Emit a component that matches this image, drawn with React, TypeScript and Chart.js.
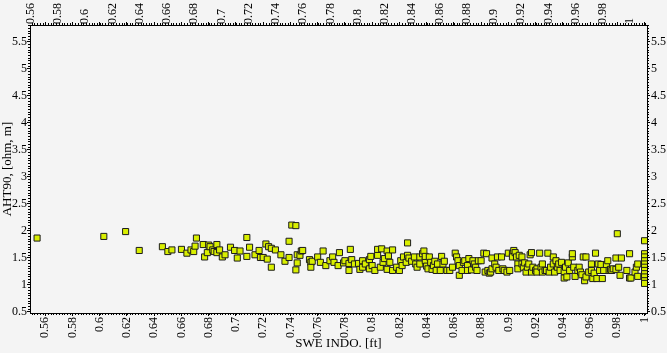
import React, { useEffect, useRef } from "react";
import { Chart, registerables } from "chart.js";

Chart.register(...registerables);

// ---- data ----
const sweIndo: number[] = [
  0.554, 0.603, 0.619, 0.629, 0.646, 0.650, 0.653, 0.660, 0.664, 0.667,
  0.669, 0.670, 0.671, 0.676, 0.677, 0.679, 0.680, 0.681, 0.683, 0.684,
  0.686, 0.686, 0.688, 0.690, 0.692, 0.696, 0.699, 0.701, 0.703, 0.708,
  0.708, 0.710, 0.714, 0.717, 0.718, 0.720, 0.722, 0.723, 0.724, 0.726,
  0.726, 0.729, 0.733, 0.736, 0.739, 0.739, 0.741, 0.744, 0.744, 0.745,
  0.745, 0.747, 0.748, 0.749, 0.754, 0.755, 0.755, 0.756, 0.760, 0.762,
  0.764, 0.766, 0.769, 0.771, 0.772, 0.775, 0.776,
  0.779, 0.780, 0.783, 0.783, 0.784, 0.785, 0.787, 0.790, 0.791, 0.793,
  0.793, 0.795, 0.798, 0.798, 0.799, 0.800, 0.802, 0.804, 0.804, 0.806,
  0.807, 0.808, 0.809, 0.811, 0.811, 0.812, 0.813, 0.815, 0.815, 0.818,
  0.820, 0.821, 0.822, 0.823, 0.825, 0.826, 0.826, 0.827, 0.829, 0.831,
  0.832, 0.833, 0.835, 0.835, 0.837, 0.838, 0.839, 0.839, 0.840, 0.841,
  0.842, 0.843, 0.844, 0.845, 0.846, 0.847, 0.848, 0.850, 0.851, 0.852,
  0.853, 0.855, 0.857, 0.859, 0.861, 0.862, 0.863, 0.864, 0.864, 0.866,
  0.867, 0.868, 0.870, 0.870, 0.871, 0.873, 0.874, 0.875, 0.876, 0.877,
  0.878, 0.880, 0.882, 0.883, 0.884, 0.885, 0.886, 0.887, 0.888, 0.888,
  0.890, 0.891, 0.892, 0.893, 0.895, 0.896, 0.897, 0.899, 0.900, 0.901,
  0.903, 0.903, 0.904, 0.905, 0.906, 0.907, 0.907, 0.908, 0.910, 0.910,
  0.911, 0.912, 0.913, 0.914, 0.915, 0.916, 0.917, 0.917, 0.918, 0.920,
  0.921, 0.921, 0.923, 0.924, 0.925, 0.925, 0.927, 0.928, 0.929, 0.930,
  0.931, 0.933, 0.933, 0.934, 0.935, 0.936, 0.937, 0.938, 0.939, 0.941,
  0.941, 0.942, 0.943, 0.944, 0.945, 0.947, 0.947, 0.948, 0.949, 0.951,
  0.952, 0.953, 0.954, 0.955, 0.956, 0.957, 0.957, 0.959, 0.961, 0.961,
  0.962, 0.963, 0.964, 0.965, 0.966, 0.967, 0.968, 0.969, 0.970, 0.972,
  0.973, 0.974, 0.975, 0.976, 0.977, 0.979, 0.979, 0.980, 0.981, 0.982,
  0.983, 0.987, 0.989, 0.989, 0.990, 0.993, 0.994, 0.995, 0.995,
  1.0, 1.0, 1.0, 1.0, 1.0, 1.0, 1.0, 1.0, 1.0, 1.0, 1.0,
];

const aht90: number[] = [
  1.86, 1.89, 1.98, 1.63, 1.70, 1.61, 1.64, 1.65, 1.58, 1.64,
  1.61, 1.71, 1.86, 1.74, 1.51, 1.59, 1.73, 1.70, 1.64, 1.61,
  1.74, 1.59, 1.64, 1.51, 1.55, 1.69, 1.63, 1.49, 1.62, 1.87,
  1.52, 1.69, 1.55, 1.63, 1.50, 1.50, 1.75, 1.47, 1.70, 1.32,
  1.67, 1.64, 1.55, 1.43, 1.80, 1.50, 2.10, 2.09, 1.27, 1.55,
  1.40, 1.54, 1.62, 1.63, 1.46, 1.41, 1.32, 1.43, 1.51, 1.41,
  1.62, 1.35, 1.44, 1.51, 1.41, 1.35, 1.59,
  1.40, 1.44, 1.39, 1.26, 1.65, 1.46, 1.38, 1.39, 1.28, 1.32,
  1.44, 1.38, 1.46, 1.29, 1.52, 1.35, 1.26, 1.54, 1.65, 1.32,
  1.66, 1.41, 1.48, 1.62, 1.28, 1.53, 1.41, 1.26, 1.64, 1.32,
  1.26, 1.44, 1.35, 1.51, 1.41, 1.77, 1.54, 1.49, 1.43, 1.51,
  1.38, 1.32, 1.51, 1.38, 1.57, 1.62, 1.44, 1.52, 1.34, 1.29,
  1.51, 1.41, 1.28, 1.35, 1.43, 1.26, 1.38, 1.26, 1.52, 1.38,
  1.43, 1.26, 1.26, 1.32, 1.58, 1.51, 1.44, 1.35, 1.17, 1.26,
  1.41, 1.44, 1.35, 1.26, 1.48, 1.27, 1.44, 1.38, 1.32, 1.26,
  1.44, 1.44, 1.58, 1.23, 1.57, 1.26, 1.21, 1.23, 1.29, 1.49,
  1.38, 1.32, 1.51, 1.26, 1.51, 1.29, 1.26, 1.23, 1.58, 1.26,
  1.57, 1.51, 1.63, 1.59, 1.51, 1.38, 1.29, 1.54, 1.51, 1.38,
  1.32, 1.40, 1.23, 1.32, 1.38, 1.55, 1.59, 1.23, 1.32, 1.26,
  1.29, 1.23, 1.58, 1.32, 1.38, 1.23, 1.26, 1.26, 1.58, 1.23,
  1.32, 1.51, 1.38, 1.23, 1.44, 1.32, 1.38, 1.26, 1.41, 1.12,
  1.24, 1.32, 1.14, 1.40, 1.26, 1.51, 1.57, 1.32, 1.15, 1.26,
  1.32, 1.23, 1.18, 1.51, 1.07, 1.51, 1.14, 1.23, 1.26, 1.38,
  1.11, 1.21, 1.58, 1.11, 1.38, 1.26, 1.37, 1.11, 1.26, 1.37,
  1.44, 1.26, 1.28, 1.26, 1.29, 1.49, 1.28, 1.94, 1.32, 1.17,
  1.49, 1.26, 1.12, 1.57, 1.12, 1.23, 1.32, 1.38, 1.15,
  1.81, 1.57, 1.51, 1.44, 1.38, 1.32, 1.26, 1.20, 1.14, 1.07, 1.02,
];

const xTickValues: number[] = [
  0.56, 0.58, 0.6, 0.62, 0.64, 0.66, 0.68, 0.7, 0.72, 0.74, 0.76, 0.78,
  0.8, 0.82, 0.84, 0.86, 0.88, 0.9, 0.92, 0.94, 0.96, 0.98, 1,
];
const yTickValues: number[] = [0.5, 1, 1.5, 2, 2.5, 3, 3.5, 4, 4.5, 5, 5.5];

const X_MIN = 0.5488;
const X_MAX = 1.0018;
const Y_MIN = 0.472;
const Y_MAX = 5.805;
const X_MINOR = 0.002;
const Y_MINOR = 0.05;

const xTitle = "SWE INDO. [ft]";
const yTitle = "AHT90, [ohm, m]";

const FONT = "'Liberation Serif', 'Times New Roman', serif";
const BG = "#f4f4f4";

const fmt = (v: number) => String(parseFloat(Number(v).toFixed(2)));

const bgPlugin = {
  id: "bgPlugin",
  beforeDraw(chart: any) {
    const ctx = chart.ctx;
    ctx.save();
    ctx.fillStyle = BG;
    ctx.fillRect(0, 0, chart.width, chart.height);
    ctx.restore();
  },
};

const minorTickPlugin = {
  id: "minorTickPlugin",
  afterDraw(chart: any) {
    const ctx = chart.ctx;
    const { left, right, top, bottom } = chart.chartArea;
    const xs = chart.scales.x;
    const ys = chart.scales.y;
    ctx.save();
    ctx.strokeStyle = "#000";
    ctx.lineWidth = 1;
    ctx.beginPath();
    const i0 = Math.ceil(xs.min / X_MINOR - 1e-9);
    const i1 = Math.floor(xs.max / X_MINOR + 1e-9);
    for (let i = i0; i <= i1; i++) {
      const px = Math.round(xs.getPixelForValue(i * X_MINOR)) + 0.5;
      ctx.moveTo(px, top);
      ctx.lineTo(px, top - 2);
      ctx.moveTo(px, bottom);
      ctx.lineTo(px, bottom + 2);
    }
    const j0 = Math.ceil(ys.min / Y_MINOR - 1e-9);
    const j1 = Math.floor(ys.max / Y_MINOR + 1e-9);
    for (let j = j0; j <= j1; j++) {
      const py = Math.round(ys.getPixelForValue(j * Y_MINOR)) + 0.5;
      ctx.moveTo(left, py);
      ctx.lineTo(left - 2, py);
      ctx.moveTo(right, py);
      ctx.lineTo(right + 2, py);
    }
    ctx.stroke();
    ctx.restore();
  },
};

export default function App() {
  const canvasRef = useRef<HTMLCanvasElement | null>(null);

  useEffect(() => {
    document.body.style.margin = "0";
    const canvas = canvasRef.current;
    if (!canvas) return;

    const points = sweIndo.map((x, i) => ({ x, y: aht90[i] }));

    const xTickFont = { family: FONT, size: 12 };
    const yTickFont = { family: FONT, size: 12 };
    const grid = {
      display: true,
      drawOnChartArea: false,
      drawTicks: true,
      tickLength: 3,
      color: "#000",
    };
    const border = { display: true, color: "#000", width: 1 };

    const xTicksCb = (scale: any) => {
      scale.ticks = xTickValues.map((v) => ({ value: v }));
    };
    const yTicksCb = (scale: any) => {
      scale.ticks = yTickValues.map((v) => ({ value: v }));
    };

    const chart = new Chart(canvas, {
      type: "scatter",
      data: {
        datasets: [
          {
            data: points,
            pointStyle: "rect",
            pointRadius: 4.3,
            pointHoverRadius: 4.3,
            backgroundColor: "#d9ef00",
            borderColor: "#1c1c1c",
            borderWidth: 1,
          },
        ],
      },
      options: {
        responsive: false,
        animation: false,
        events: [],
        layout: { padding: 0 },
        plugins: {
          legend: { display: false },
          tooltip: { enabled: false },
        },
        scales: {
          x: {
            type: "linear",
            position: "bottom",
            min: X_MIN,
            max: X_MAX,
            afterBuildTicks: xTicksCb,
            afterFit: (s: any) => {
              s.height = 40;
            },
            grid,
            border,
            ticks: {
              minRotation: 90,
              maxRotation: 90,
              autoSkip: false,
              padding: 1,
              color: "#000",
              font: xTickFont,
              callback: (v: any) => fmt(v),
            },
            title: {
              display: true,
              text: xTitle,
              color: "#000",
              font: { family: FONT, size: 13 },
              padding: { top: 0, bottom: 2 },
            },
          },
          x2: {
            type: "linear",
            position: "top",
            display: true,
            min: X_MIN,
            max: X_MAX,
            afterBuildTicks: xTicksCb,
            afterFit: (s: any) => {
              s.height = 25;
            },
            grid,
            border,
            ticks: {
              minRotation: 90,
              maxRotation: 90,
              autoSkip: false,
              padding: -2,
              color: "#000",
              font: xTickFont,
              callback: (v: any) => fmt(v),
            },
          },
          y: {
            type: "linear",
            position: "left",
            min: Y_MIN,
            max: Y_MAX,
            afterBuildTicks: yTicksCb,
            afterFit: (s: any) => {
              s.width = 30;
            },
            grid,
            border,
            ticks: {
              autoSkip: false,
              padding: 0,
              color: "#000",
              font: yTickFont,
              callback: (v: any) => fmt(v),
            },
            title: {
              display: true,
              text: yTitle,
              color: "#000",
              font: { family: FONT, size: 13 },
              padding: { top: 0, bottom: 0 },
            },
          },
          y2: {
            type: "linear",
            position: "right",
            display: true,
            min: Y_MIN,
            max: Y_MAX,
            afterBuildTicks: yTicksCb,
            afterFit: (s: any) => {
              s.width = 20;
            },
            grid,
            border,
            ticks: {
              autoSkip: false,
              padding: 1,
              color: "#000",
              font: yTickFont,
              callback: (v: any) => fmt(v),
            },
          },
        },
      },
      plugins: [bgPlugin, minorTickPlugin],
    } as any);

    return () => {
      chart.destroy();
    };
  }, []);

  return (
    <div style={{ position: "absolute", left: 0, top: 0, width: 667, height: 353 }}>
      <canvas
        ref={canvasRef}
        width={667}
        height={353}
        style={{ width: 667, height: 353, display: "block" }}
      />
    </div>
  );
}
